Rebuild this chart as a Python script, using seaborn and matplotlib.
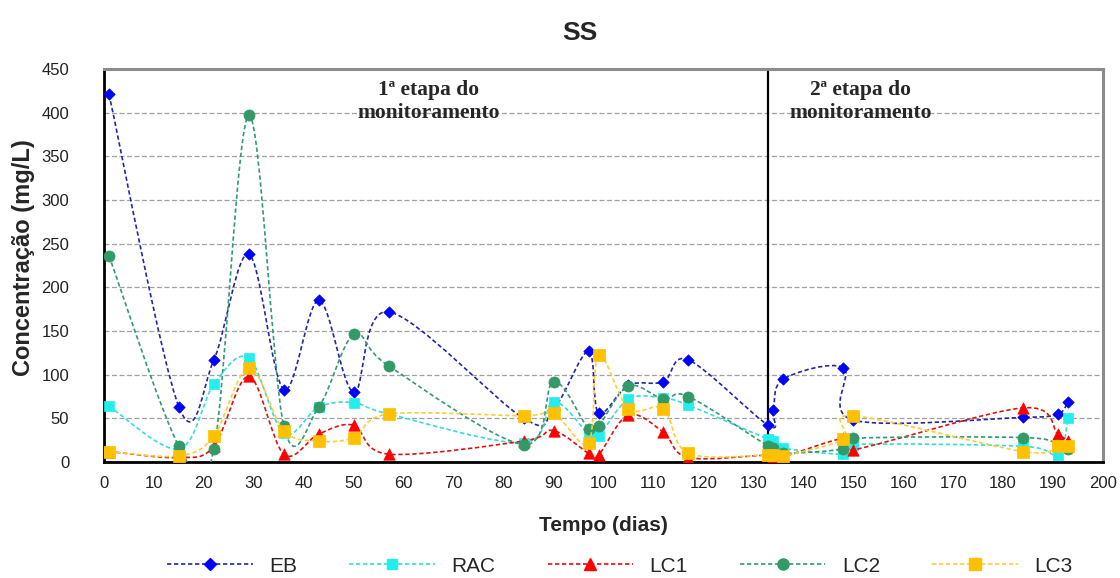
import numpy as np
import pandas as pd
import matplotlib
matplotlib.use("Agg")
import matplotlib.pyplot as plt
from matplotlib.path import Path
from matplotlib.patches import PathPatch
from matplotlib.lines import Line2D
import seaborn as sns

# dias de coleta
dias = [1, 15, 22, 29, 36, 43, 50, 57, 84, 90, 97, 99, 105, 112, 117,
        133, 134, 136, 148, 150, 184, 191, 193]

# SS (mg/L) por ponto
EB = [421, 63, 117, 238, 83, 185, 80, 172, 50, 60, 127, 56, 88, 92, 117,
      42, 60, 95, 108, 48, 51, 55, 69]
RAC = [64, 15, 89, 119, 33, 63, 68, 55, 22, 69, 32, 30, 72, 73, 65,
       26, 24, 16, 9, 20, 18, 8, 50]
LC1 = [12, 5, 18, 98, 9, 32, 42, 9, 24, 36, 10, 8, 54, 34, 5,
       8, 6, 6, 27, 14, 62, 32, 24]
LC2 = [236, 18, 15, 397, 41, 63, 146, 110, 20, 92, 38, 41, 87, 72, 75,
       18, 16, 10, 15, 27, 28, 20, 15]
LC3 = [12, 7, 30, 108, 36, 24, 28, 55, 53, 56, 22, 123, 61, 61, 10,
       8, 8, 7, 26, 53, 12, 18, 18]

series = ["EB", "RAC", "LC1", "LC2", "LC3"]
valores = {"EB": EB, "RAC": RAC, "LC1": LC1, "LC2": LC2, "LC3": LC3}

df = pd.concat([pd.DataFrame({"dia": dias, "ss": valores[s], "serie": s}) for s in series],
               ignore_index=True)

# estilo de cada serie: cor do marcador, cor da linha, marcador, tamanho
estilo = {
    "EB":  ("#0000FF", "#2525A8", "D", 5.8),
    "RAC": ("#22EEEE", "#33DDDD", "s", 7.8),
    "LC1": ("#FF0000", "#E01010", "^", 8.2),
    "LC2": ("#339966", "#339977", "o", 8.0),
    "LC3": ("#FFC000", "#FFCC33", "s", 8.0),
}
dash = (0, (2.6, 1.6))


def curva_suave(x, y):
    # curva suavizada estilo Excel (bezier entre os pontos)
    p = np.column_stack([x, y]).astype(float)
    n = len(p)
    verts = [p[0]]
    codes = [Path.MOVETO]
    for i in range(n - 1):
        p0 = p[i - 1] if i > 0 else p[i]
        p3 = p[i + 2] if i + 2 < n else p[i + 1]
        c1 = p[i] + (p[i + 1] - p0) / 6.0
        c2 = p[i + 1] - (p3 - p[i]) / 6.0
        verts += [c1, c2, p[i + 1]]
        codes += [Path.CURVE4] * 3
    return Path(verts, codes)


sns.set_style("white")
plt.rcParams["font.family"] = ["Liberation Sans", "DejaVu Sans"]

fig = plt.figure(figsize=(11.2, 5.78), dpi=100)
ax = fig.add_axes([104 / 1120, 1 - 462 / 578, (1103 - 104) / 1120, (462 - 69) / 578])

for i, s in enumerate(series):
    cor_m, cor_l, mk, ms = estilo[s]
    sub = df[df["serie"] == s]
    patch = PathPatch(curva_suave(sub["dia"], sub["ss"]), fill=False, edgecolor=cor_l,
                      linewidth=1.2, linestyle=dash, zorder=3 + i * 0.1)
    ax.add_patch(patch)
    sns.scatterplot(data=sub, x="dia", y="ss", marker=mk, s=ms ** 2, color=cor_m,
                    edgecolor=cor_m, linewidth=0.5, ax=ax, zorder=3.05 + i * 0.1, legend=False)

ax.axvline(133, color="black", linewidth=1.6, zorder=2.5)

ax.set_xlim(0, 200)
ax.set_ylim(0, 450)
ax.set_xticks(range(0, 201, 10))
ax.set_yticks(range(0, 451, 50))
ax.yaxis.grid(True, color="#A0A0A0", linestyle=(0, (4, 2)), linewidth=0.9)
ax.set_axisbelow(True)
ax.tick_params(axis="both", direction="out", length=6, width=1, colors="#333333",
               labelsize=12, labelcolor="#222222")
ax.tick_params(axis="y", pad=19)
ax.tick_params(axis="x", pad=4)

for lado in ["left", "bottom"]:
    ax.spines[lado].set_color("black")
    ax.spines[lado].set_linewidth(2)
for lado in ["top", "right"]:
    ax.spines[lado].set_color("#8C8C8C")
    ax.spines[lado].set_linewidth(2.2)

ax.set_xlabel("Tempo (dias)", fontsize=15, fontweight="bold", labelpad=18)
ax.set_ylabel("")
fig.text(24 / 1120, 1 - 258 / 578, "Concentração (mg/L)", rotation=90, ha="center",
         va="center", fontsize=17, fontweight="bold")

fig.text(580 / 1120, 1 - 33 / 578, "SS", ha="center", va="center", fontsize=19,
         fontweight="bold")

ax.text(65, 413, "1ª etapa do\nmonitoramento", ha="center", va="center",
        fontsize=15.5, fontweight="bold", family="Liberation Serif", linespacing=1.2)
ax.text(151.5, 413, "2ª etapa do\nmonitoramento", ha="center", va="center",
        fontsize=15.5, fontweight="bold", family="Liberation Serif", linespacing=1.2)

handles = []
for s in series:
    cor_m, cor_l, mk, ms = estilo[s]
    handles.append(Line2D([], [], color=cor_l, linestyle=dash, linewidth=1.2, marker=mk,
                          markersize=ms, markerfacecolor=cor_m, markeredgecolor=cor_m))
fig.legend(handles, series, loc="center", bbox_to_anchor=(620 / 1120, 1 - 566 / 578),
           ncol=5, frameon=False, fontsize=15, handlelength=4.1, handletextpad=0.8,
           columnspacing=2.5, borderaxespad=0)

fig.savefig("out.png", dpi=100)
